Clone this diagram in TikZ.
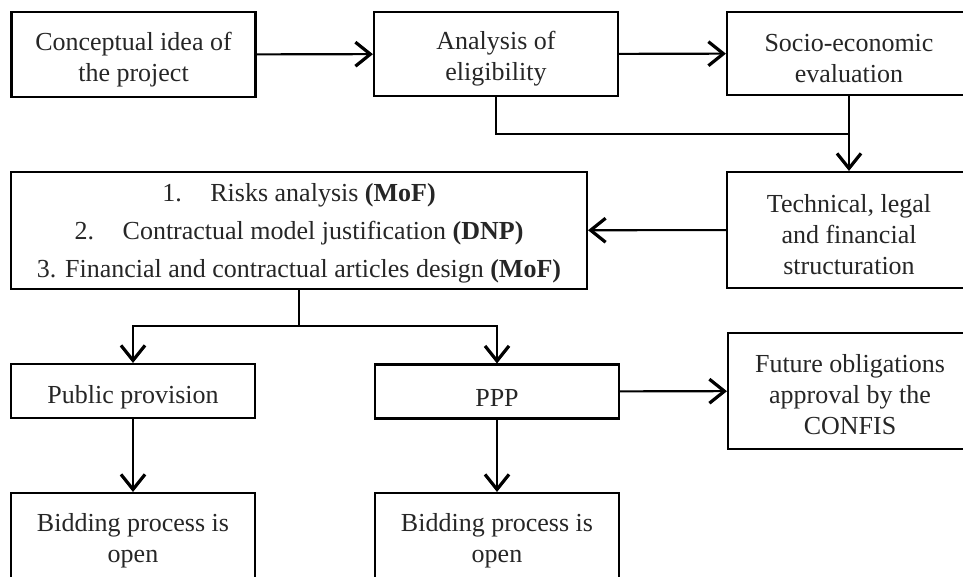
\documentclass[tikz,border=0pt]{standalone}
\usepackage{fontspec}
\setmainfont{Liberation Serif}
\usetikzlibrary{arrows.meta}
\begin{document}
\begin{tikzpicture}[x=1pt,y=-1pt,
  frame/.style={draw=black, line width=2.1pt, inner sep=0pt, minimum width=244pt},
  txt/.style={align=center, inner sep=0pt, font=\fontsize{26}{31}\selectfont, text=black!85},
  flow/.style={line width=2.1pt, -{Straight Barb[length=15pt,width=24pt,line width=3.2pt]}},
  link/.style={line width=2.1pt}]
\useasboundingbox (0,0) rectangle (963,576);

% frames
\node[frame, minimum height=85pt] (idea) at (133.5,54.5) {};
\node[frame, minimum height=84pt] (elig) at (496,54) {};
\node[frame, minimum height=83pt] (socio) at (849,53.5) {};
\node[frame, minimum height=116pt] (struct) at (849,230) {};
\node[frame, minimum width=576pt, minimum height=117pt] (steps) at (299,230.5) {};
\node[frame, minimum height=54pt] (pub) at (133,391) {};
\node[frame, minimum height=54pt] (ppp) at (497,391.5) {};
\node[frame, minimum height=116pt] (confis) at (850,391) {};
\node[frame, minimum height=86pt] (bid1) at (133,536) {};
\node[frame, minimum height=86pt] (bid2) at (497,536) {};

% texts, set a little below the middle of each frame
\node[txt] (idea-t) at ([yshift=-5pt]idea.center) {Conceptual idea of\\the project};
\node[txt] (elig-t) at ([yshift=-5pt]elig.center) {Analysis of\\eligibility};
\node[txt] (socio-t) at ([yshift=-5pt]socio.center) {Socio-economic\\evaluation};
\node[txt] (struct-t) at ([yshift=-5pt]struct.center) {Technical, legal\\and financial\\structuration};
\node[txt, font=\fontsize{26}{38}\selectfont] (steps-t) at ([yshift=-3pt]steps.center)
  {1.\hspace{1.1em}Risks analysis \textbf{(MoF)}\\
   2.\hspace{1.1em}Contractual model justification \textbf{(DNP)}\\
   3. Financial and contractual articles design \textbf{(MoF)}};
\node[txt] (pub-t) at ([yshift=-6pt]pub.center) {Public provision};
\node[txt] (ppp-t) at ([yshift=-6pt]ppp.center) {PPP};
\node[txt] (confis-t) at ([yshift=-4pt]confis.center) {Future obligations\\approval by the\\CONFIS};
\node[txt] (bid1-t) at ([yshift=-5pt]bid1.center) {Bidding process is\\open};
\node[txt] (bid2-t) at ([yshift=-5pt]bid2.center) {Bidding process is\\open};

% junctions
\coordinate (join) at (849,134);
\coordinate (split) at (299,326);

% connectors
\draw[flow] (idea) -- (elig);
\draw[flow] (elig) -- (socio);
\draw[link] (elig.south) |- (join);
\draw[flow] (socio.south) -- (struct.north);
\draw[flow] (struct) -- (steps);
\draw[link] (steps.south) -- (split);
\draw[flow] (split) -| (pub.north);
\draw[flow] (split) -| (ppp.north);
\draw[flow] (ppp) -- (confis);
\draw[flow] (pub) -- (bid1);
\draw[flow] (ppp) -- (bid2);
\end{tikzpicture}
\end{document}
